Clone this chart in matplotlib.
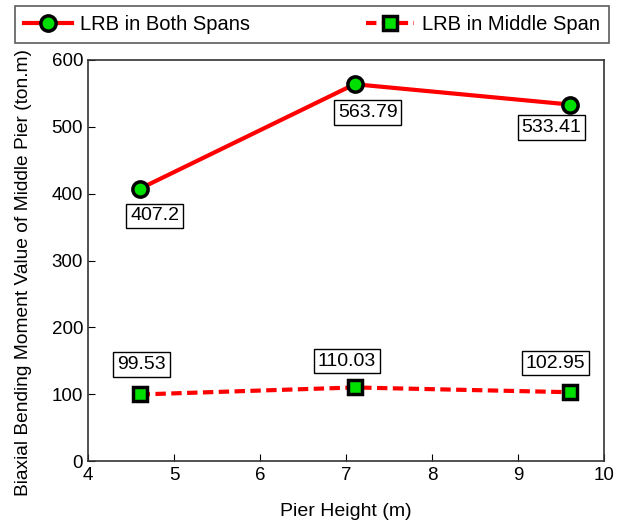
import matplotlib.pyplot as plt

plt.rcParams['font.family'] = ['Liberation Sans', 'DejaVu Sans']

# Data
pier_height = [4.6, 7.1, 9.6]
both_spans = [407.2, 563.79, 533.41]
middle_span = [99.53, 110.03, 102.95]
both_labels = ['407.2', '563.79', '533.41']
middle_labels = ['99.53', '110.03', '102.95']

fig = plt.figure(figsize=(6.18, 5.26), dpi=100)
ax = fig.add_axes([88 / 618, 65 / 526, 516 / 618, 401 / 526])

l1, = ax.plot(pier_height, both_spans, color='red', lw=3, marker='o', ms=11,
              mfc='#00e000', mec='black', mew=2.5, label='LRB in Both Spans')
l2, = ax.plot(pier_height, middle_span, color='red', lw=3, ls=(0, (2.5, 1.3)), marker='s', ms=10,
              mfc='#00e000', mec='black', mew=2.5, label='LRB in Middle Span')

box = dict(boxstyle='square,pad=0.2', fc='white', ec='black', lw=1)
# label offsets (points)
offs_top = [(11, -19.5), (9.4, -20.5), (-13, -16.5)]
offs_bot = [(1.4, 21.6), (-5.8, 19), (-10, 21)]
for x, y, t, o in zip(pier_height, both_spans, both_labels, offs_top):
    ax.annotate(t, (x, y), xytext=o, textcoords='offset points', ha='center', va='center',
                fontsize=14, bbox=box)
for x, y, t, o in zip(pier_height, middle_span, middle_labels, offs_bot):
    ax.annotate(t, (x, y), xytext=o, textcoords='offset points', ha='center', va='center',
                fontsize=14, bbox=box)

ax.set_xlim(4, 10)
ax.set_ylim(0, 600)
ax.set_xticks(range(4, 11))
ax.set_yticks(range(0, 601, 100))
ax.tick_params(direction='in', labelsize=13.5, length=5, top=False, right=False)
ax.tick_params(axis='x', pad=4)
ax.tick_params(axis='y', pad=3.5)
ax.set_xlabel('Pier Height (m)', fontsize=14, labelpad=14)
ax.set_ylabel('Biaxial Bending Moment Value of Middle Pier (ton.m)', fontsize=13.8)
ax.yaxis.set_label_coords(-0.108, 0.47)
for s in ax.spines.values():
    s.set_linewidth(1.2)
    s.set_color('#333333')

leg = fig.legend(handles=[l1, l2], loc='lower left', ncol=2, mode='expand',
                 bbox_to_anchor=(15 / 618, 1 - 43 / 526, 594 / 618, 38 / 526),
                 fontsize=14.5, fancybox=False, edgecolor='#333333', handlelength=2.4,
                 handletextpad=0.4, borderaxespad=0, borderpad=0.45)
leg.get_frame().set_linewidth(1.2)

fig.savefig('out.png', dpi=100)
